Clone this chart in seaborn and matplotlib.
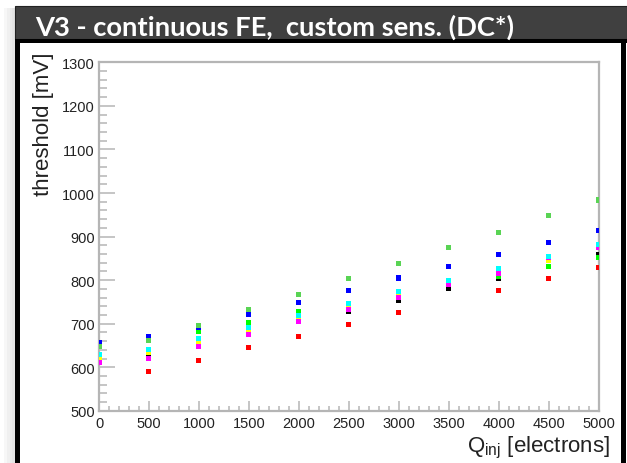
import numpy as np
import pandas as pd
import matplotlib
matplotlib.use("Agg")
import matplotlib.pyplot as plt
from matplotlib.patches import Rectangle
from matplotlib.ticker import MultipleLocator
import seaborn as sns

# Injected charge [electrons]
q_inj = [0, 500, 1000, 1500, 2000, 2500, 3000, 3500, 4000, 4500, 5000]

# Threshold [mV] per pixel channel
nan = np.nan
thr_black = [617, 627, 654, 677, 706, 728, 754, 780, 805, 846, 860]
thr_red = [nan, 591, 616, 645, 671, 698, 725, nan, 777, 803, 830]
thr_green = [648, 661, 683, 704, 727, 743, 765, 790, 808, 831, 853]
thr_blue = [656, 670, 691, 722, 749, 776, 805, 832, 860, 887, 915]
thr_yellow = [621, 633, 659, 684, 712, 741, 767, 797, 821, 846, 877]
thr_magenta = [612, 620, 648, 676, 705, 733, 761, 789, 815, 853, 874]
thr_cyan = [630, 641, 667, 692, 719, 747, 773, 799, 826, 854, 882]
thr_lightgreen = [647, 662, 696, 732, 767, 803, 838, 874, 910, 948, 984]

channels = ["black", "red", "green", "blue", "yellow", "magenta", "cyan", "lightgreen"]
series = [thr_black, thr_red, thr_green, thr_blue, thr_yellow, thr_magenta, thr_cyan, thr_lightgreen]
palette = {
    "black": "#000000", "red": "#ff0000", "green": "#00ff00", "blue": "#0000ff",
    "yellow": "#ffff00", "magenta": "#ff00ff", "cyan": "#00ffff", "lightgreen": "#59d454",
}

title_text = "V3 - continuous FE,  custom sens. (DC*)"
y_title = "threshold [mV]"
x_title = r"Q$_{\mathrm{inj}}$ [electrons]"

frames = [pd.DataFrame({"q": q_inj, "thr": vals, "ch": name}) for name, vals in zip(channels, series)]
df = pd.concat(frames, ignore_index=True).dropna()

sns.set_style("white")
plt.rcParams["font.family"] = ["Liberation Sans", "DejaVu Sans"]
plt.rcParams["mathtext.fontset"] = "custom"
plt.rcParams["mathtext.rm"] = "Liberation Sans"
plt.rcParams["mathtext.it"] = "Liberation Sans:italic"

W, H = 627, 464
fig = plt.figure(figsize=(W / 100, H / 100), dpi=100, facecolor="white")

def fx(px):
    return px / W

def fy(py):
    return 1 - py / H

# slide shadow on the left
for i, c in enumerate(["#f7f7f7", "#f0f0f0", "#eaeaea", "#e4e4e4"]):
    fig.patches.append(Rectangle((fx(4 + i * 2.8), 0), fx(2.8), fy(9), transform=fig.transFigure,
                                 facecolor=c, edgecolor="none", zorder=0))

# title bar
fig.patches.append(Rectangle((fx(15), fy(40)), fx(W - 15), fy(7) - fy(40), transform=fig.transFigure,
                             facecolor="#404040", edgecolor="#222222", linewidth=0.8, zorder=1))
fig.text(fx(35), fy(35.5), title_text, color="white", fontsize=19.7, fontweight="bold",
         family=["Lato", "DejaVu Sans"], ha="left", va="baseline", zorder=3)

# black frame around the canvas
fig.patches.append(Rectangle((fx(15), 0), fx(5), fy(40), transform=fig.transFigure,
                             facecolor="black", edgecolor="none", zorder=2))
fig.patches.append(Rectangle((fx(15), fy(43.5)), fx(W - 15), fy(40) - fy(43.5), transform=fig.transFigure,
                             facecolor="black", edgecolor="none", zorder=2))
fig.patches.append(Rectangle((fx(621), 0), fx(5), fy(40), transform=fig.transFigure,
                             facecolor="black", edgecolor="none", zorder=2))

ax_l, ax_r, ax_t, ax_b = 99, 598.5, 63.3, 411.9
ax = fig.add_axes([fx(ax_l), fy(ax_b), fx(ax_r - ax_l), fy(ax_t) - fy(ax_b)])
ax.set_facecolor("white")

sns.scatterplot(data=df, x="q", y="thr", hue="ch", hue_order=channels, palette=palette,
                marker="s", s=13, linewidth=0, legend=False, ax=ax, zorder=3)

ax.set_xlim(0, 5000)
ax.set_ylim(500, 1300)
ax.xaxis.set_major_locator(MultipleLocator(500))
ax.xaxis.set_minor_locator(MultipleLocator(100))
ax.yaxis.set_major_locator(MultipleLocator(100))
ax.yaxis.set_minor_locator(MultipleLocator(20))

frame_col = "#b5b5b5"
for sp in ax.spines.values():
    sp.set_color(frame_col)
    sp.set_linewidth(1.6)

ax.tick_params(axis="both", which="both", direction="in", color=frame_col, width=1.1,
               labelcolor="#222222", labelsize=10.5, bottom=True, left=True, top=False, right=False)
ax.tick_params(axis="x", which="major", length=7.5, pad=4)
ax.tick_params(axis="x", which="minor", length=3.6)
ax.tick_params(axis="y", which="major", length=11.5, pad=3)
ax.tick_params(axis="y", which="minor", length=5.6)
ax.set_xlabel("")
ax.set_ylabel("")

fig.text(fx(43), fy(53), y_title, rotation=90, ha="center", va="top", fontsize=16, color="#222222")
fig.text(fx(610), fy(452), x_title, ha="right", va="baseline", fontsize=16, color="#222222")

fig.savefig("out.png", dpi=100, facecolor="white")
